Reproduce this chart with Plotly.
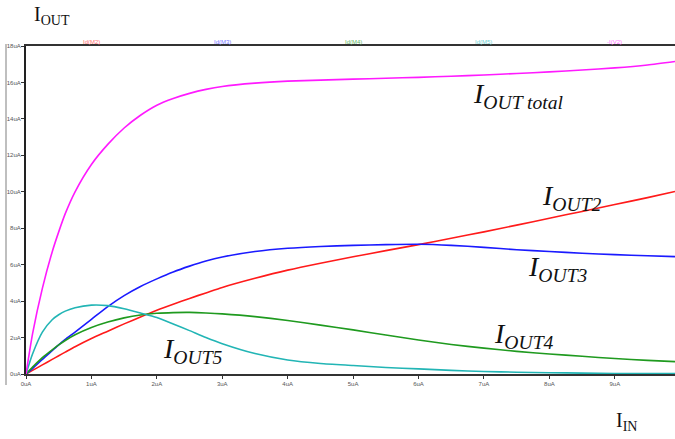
import plotly.graph_objects as go

# Input current (uA)
x_in = [0, 0.1, 0.25, 0.4, 0.5, 0.6, 0.75, 1, 1.25, 1.5, 1.75, 2, 2.25, 2.5, 2.75, 3, 3.5, 4,
        4.5, 5, 5.5, 6, 6.5, 7, 7.5, 8, 8.5, 9, 9.5, 9.92]

# Output currents (uA)
i_total = [0, 2.2, 4.7, 6.7, 7.8, 8.8, 10.0, 11.5, 12.6, 13.5, 14.2, 14.75, 15.12, 15.4, 15.62, 15.78, 15.96, 16.07,
           16.13, 16.18, 16.23, 16.28, 16.34, 16.41, 16.49, 16.58, 16.68, 16.8, 16.96, 17.15]
i_m3 = [0, 0.3, 0.8, 1.28, 1.6, 1.9, 2.3, 3.0, 3.7, 4.3, 4.8, 5.22, 5.6, 5.92, 6.2, 6.42, 6.72, 6.9,
        7.0, 7.06, 7.1, 7.12, 7.06, 6.95, 6.82, 6.72, 6.63, 6.55, 6.49, 6.44]
i_m4 = [0, 0.38, 0.9, 1.33, 1.6, 1.84, 2.15, 2.55, 2.85, 3.08, 3.24, 3.33, 3.37, 3.38, 3.35, 3.3, 3.15, 2.94,
        2.68, 2.42, 2.14, 1.87, 1.62, 1.42, 1.24, 1.1, 0.97, 0.85, 0.75, 0.68]
i_m2 = [0, 0.2, 0.5, 0.8, 1.0, 1.2, 1.5, 1.95, 2.35, 2.75, 3.13, 3.5, 3.83, 4.15, 4.45, 4.75, 5.25, 5.7,
        6.08, 6.43, 6.77, 7.1, 7.45, 7.8, 8.17, 8.55, 8.92, 9.3, 9.68, 10.02]
i_m5 = [0, 1.1, 2.3, 2.98, 3.25, 3.45, 3.64, 3.78, 3.75, 3.58, 3.35, 3.1, 2.75, 2.38, 2.0, 1.66, 1.12, 0.77,
        0.58, 0.47, 0.36, 0.28, 0.2, 0.14, 0.1, 0.07, 0.05, 0.03, 0.02, 0.02]

x_ticks = [0, 1, 2, 3, 4, 5, 6, 7, 8, 9]
x_tick_labels = ["0uA", "1uA", "2uA", "3uA", "4uA", "5uA", "6uA", "7uA", "8uA", "9uA"]
y_ticks = [0, 2, 4, 6, 8, 10, 12, 14, 16, 18]
y_tick_labels = ["0uA", "2uA", "4uA", "6uA", "8uA", "10uA", "12uA", "14uA", "16uA", "18uA"]

series_names = ["Id(M2)", "Id(M3)", "Id(M4)", "Id(M5)", "-I(V2)"]
series_label_x = [1, 3, 5, 7, 9]
series_label_colors = ["#ff7070", "#7878ff", "#66b866", "#70d0d0", "#ff70ff"]

fig = go.Figure()
traces = [
    (i_m2, "#ff1a1a"),
    (i_m3, "#1a1aff"),
    (i_m4, "#1f9a1f"),
    (i_m5, "#22b5b5"),
    (i_total, "#ff1aff"),
]
for vals, col in traces:
    fig.add_trace(go.Scatter(x=x_in, y=vals, mode="lines",
                             line=dict(color=col, width=1.6, shape="spline", smoothing=0.6),
                             showlegend=False, hoverinfo="skip"))

tick_font = dict(family="Liberation Sans, Arial", size=6, color="#555555")
fig.update_xaxes(range=[0, 9.92], tickvals=x_ticks, ticktext=x_tick_labels,
                 showgrid=False, zeroline=False, showline=True, linecolor="#333333", linewidth=2,
                 mirror=True, ticks="outside", ticklen=3, tickcolor="#333333", tickfont=tick_font)
fig.update_yaxes(range=[0, 18], tickvals=y_ticks, ticktext=y_tick_labels,
                 showgrid=False, zeroline=False, showline=True, linecolor="#222222", linewidth=2,
                 ticks="outside", ticklen=3, tickcolor="#333333", tickfont=tick_font,
                 ticklabelstandoff=-1)

annos = []
for name, xv, col in zip(series_names, series_label_x, series_label_colors):
    annos.append(dict(x=xv, y=1.012, xref="x", yref="paper", text=name, showarrow=False,
                      font=dict(family="Liberation Sans, Arial", size=6, color=col),
                      xanchor="center", yanchor="middle"))

lab_font = dict(family="Liberation Serif, DejaVu Serif, serif", size=28, color="#111111")
curve_labels = [
    ("<i>I<sub>OUT total</sub></i>", 6.8, 15.3),
    ("<i>I<sub>OUT2</sub></i>", 7.85, 9.7),
    ("<i>I<sub>OUT3</sub></i>", 7.64, 5.8),
    ("<i>I<sub>OUT4</sub></i>", 7.12, 2.14),
    ("<i>I<sub>OUT5</sub></i>", 2.07, 1.3),
]
for txt, xv, yv in curve_labels:
    annos.append(dict(x=xv, y=yv, xref="x", yref="y", text=txt, showarrow=False,
                      font=lab_font, xanchor="left", yanchor="middle"))

axis_font = dict(family="Liberation Serif, DejaVu Serif, serif", size=20, color="#111111")
annos.append(dict(x=(32 - 26) / 649, y=(374 - 15) / 328, xref="paper", yref="paper",
                  text="I<sub>OUT</sub>", showarrow=False, font=axis_font,
                  xanchor="left", yanchor="middle"))
annos.append(dict(x=(614 - 26) / 649, y=(374 - 422) / 328, xref="paper", yref="paper",
                  text="I<sub>IN</sub>", showarrow=False, font=axis_font,
                  xanchor="left", yanchor="middle"))

fig.update_layout(
    width=675, height=439,
    margin=dict(l=26, r=0, t=46, b=65),
    paper_bgcolor="white", plot_bgcolor="white",
    annotations=annos,
    shapes=[dict(type="line", xref="paper", yref="paper",
                 x0=(6 - 26) / 649, x1=(6 - 26) / 649, y0=-11 / 328, y1=1.006,
                 line=dict(color="#aaaaaa", width=1.5))],
)

fig.write_html("out.html")
